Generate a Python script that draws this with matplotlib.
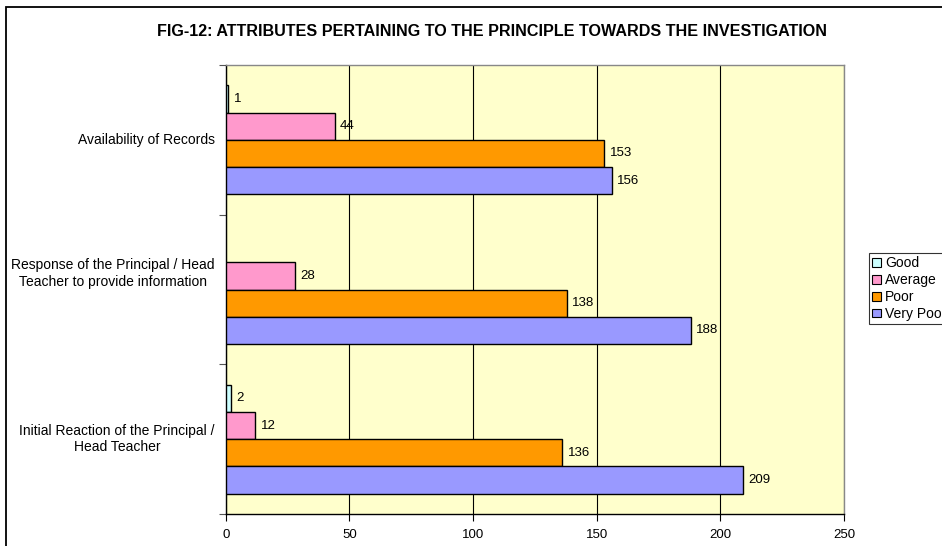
import matplotlib
matplotlib.use("Agg")
import matplotlib.pyplot as plt
import numpy as np
from matplotlib.patches import Rectangle, Patch
import matplotlib.transforms as mtransforms

plt.rcParams['font.family'] = ['Liberation Sans', 'DejaVu Sans']

categories = ["Availability of Records",
              "Response of the Principal / Head\nTeacher to provide information",
              "Initial Reaction of the Principal /\nHead Teacher"]
series_names = ["Good", "Average", "Poor", "Very Poor"]
good = [1, 0, 2]
average = [44, 28, 12]
poor = [153, 138, 136]
very_poor = [156, 188, 209]
values = [good, average, poor, very_poor]
colors = ["#CCFFFF", "#FF99CC", "#FF9900", "#9999FF"]
xticks = [0, 50, 100, 150, 200, 250]

fig = plt.figure(figsize=(9.42, 5.46), dpi=100)
ax = fig.add_axes([225.7/942, 1-514/546, (844-225.7)/942, (514-65)/546])
ax.set_facecolor("#FFFFCC")

bar_h = 0.182
n = len(series_names)
ypos = np.arange(len(categories))
for i, (name, vals, c) in enumerate(zip(series_names, values, colors)):
    offs = (i - (n - 1) / 2) * bar_h
    ys = ypos + offs
    for y, v in zip(ys, vals):
        if v == 0:
            continue
        ax.barh(y, v, height=bar_h, color=c, edgecolor="black", linewidth=1.0, zorder=3)
        ax.text(v + 2.2, y, str(v), va="center", ha="left", fontsize=9.5, zorder=4)

ax.set_xlim(0, 250)
ax.set_ylim(len(categories) - 0.5, -0.5)
ax.set_xticks(xticks)
ax.set_xticklabels([str(t) for t in xticks], fontsize=9.5)
ax.xaxis.grid(True, color="black", linewidth=0.8, zorder=0)
ax.set_axisbelow(True)

ax.set_yticks([-0.5, 0.5, 1.5, 2.5])
ax.set_yticklabels([])
ax.tick_params(axis="y", which="major", length=5, width=0.8, color="#555555")
ax.tick_params(axis="x", which="major", length=5, width=0.8, pad=6)

# category labels (the middle one sits a little above its group, as in the original)
label_shift_px = [0, 16, 0]
for y, lab, sh in zip(ypos, categories, label_shift_px):
    tr = ax.get_yaxis_transform() + mtransforms.ScaledTranslation(-11/100, sh/100, fig.dpi_scale_trans)
    ax.text(0, y, lab, transform=tr, ha="right", va="center", multialignment="center",
            fontsize=10, linespacing=1.2, clip_on=False)

for s in ["left", "bottom"]:
    ax.spines[s].set_color("black")
    ax.spines[s].set_linewidth(1.0)
for s in ["top", "right"]:
    ax.spines[s].set_color("#888888")
    ax.spines[s].set_linewidth(1.0)

fig.text(492/942, 1 - 32/546,
         "FIG-12: ATTRIBUTES PERTAINING TO THE PRINCIPLE TOWARDS THE INVESTIGATION",
         ha="center", va="center", fontsize=11.6, fontweight="bold")

handles = [Patch(facecolor=c, edgecolor="black", linewidth=0.8, label=nm)
           for nm, c in zip(series_names, colors)]
leg = fig.legend(handles=handles, loc="upper left", bbox_to_anchor=(869/942, 1 - 253/546),
                 fontsize=10, frameon=True, fancybox=False, edgecolor="black",
                 handlelength=0.6, handleheight=0.6, handletextpad=0.3,
                 labelspacing=0.2, borderpad=0.25, borderaxespad=0)
leg.get_frame().set_linewidth(0.8)

fig.patches.append(Rectangle((6/942, -0.1), 1.2, 1 - 7/546 + 0.1,
                             transform=fig.transFigure, fill=False,
                             edgecolor="black", linewidth=1.3))

fig.savefig("out.png", dpi=100)
